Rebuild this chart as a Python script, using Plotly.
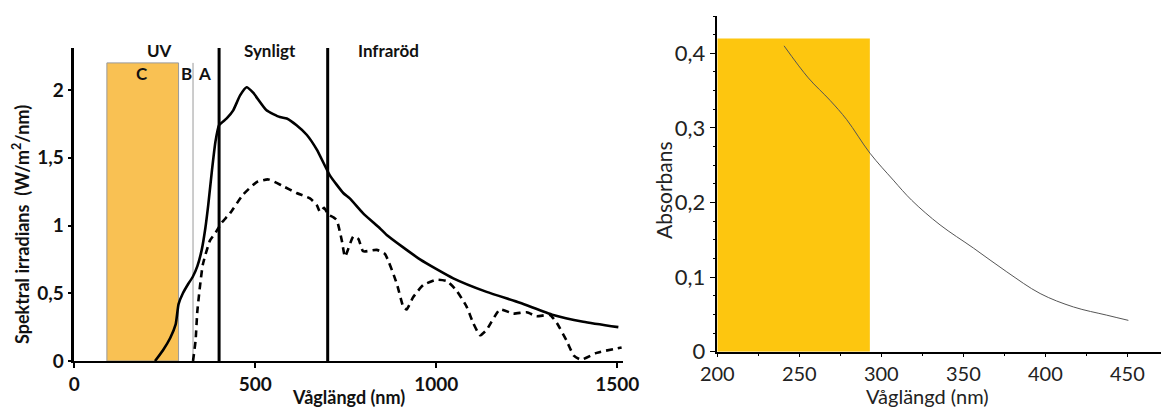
import plotly.graph_objects as go

# ---------------- Left chart: spectral irradiance ----------------
solid_nm = [223, 245, 265, 280, 288, 300, 315, 327, 340, 352, 362, 370, 380, 390, 400,
            421, 439, 458, 476, 494, 531, 568, 587, 614, 642, 670, 706, 743, 761, 798,
            844, 863, 955, 1047, 1139, 1231, 1323, 1406, 1503]
solid_val = [0.0, 0.08, 0.17, 0.27, 0.42, 0.50, 0.57, 0.62, 0.70, 0.82, 0.98, 1.15, 1.40, 1.62, 1.74,
             1.79, 1.85, 1.96, 2.02, 1.98, 1.85, 1.80, 1.79, 1.74, 1.67, 1.56, 1.37, 1.24, 1.20, 1.09,
             0.98, 0.93, 0.75, 0.61, 0.51, 0.43, 0.34, 0.29, 0.25]

dashed_nm = [328, 335, 340, 355, 375, 391, 407, 430, 467, 504, 536, 577, 614, 651, 670, 679,
             690, 702, 716, 725, 739, 748, 771, 785, 798, 835, 858, 891, 909, 918, 936, 964,
             1001, 1029, 1056, 1084, 1102, 1121, 1139, 1176, 1213, 1250, 1277, 1314, 1333,
             1360, 1380, 1400, 1443, 1512]
dashed_val = [0.0, 0.15, 0.37, 0.71, 0.89, 0.95, 1.02, 1.09, 1.23, 1.32, 1.34, 1.29, 1.24, 1.20, 1.15, 1.10,
              1.13, 1.08, 1.06, 1.04, 0.89, 0.77, 0.92, 0.90, 0.81, 0.82, 0.79, 0.57, 0.40, 0.38, 0.47, 0.56,
              0.60, 0.59, 0.52, 0.40, 0.28, 0.19, 0.23, 0.38, 0.35, 0.36, 0.33, 0.34, 0.28,
              0.15, 0.04, 0.01, 0.06, 0.10]

uvc_band = [90, 288]       # nm
uvb_edge = 328             # nm
uv_top = 2.2
region_lines = [400, 700]  # nm
left_xticks = [0, 500, 1000, 1500]
left_xtext = ["0", "500", "1000", "1500"]
left_yticks = [0, 0.5, 1, 1.5, 2]
left_ytext = ["0", "0,5", "1", "1,5", "2"]
region_labels = ["UV", "Synligt", "Infraröd"]
region_label_x = [235, 540, 868]
band_labels = ["C", "B", "A"]
band_label_x = [186, 310, 359]

# ---------------- Right chart: absorbance ----------------
abs_nm = [240.7, 255.5, 268.7, 278.9, 293.1, 307.3, 318.5, 335.8, 356.1, 376.5, 396.8, 417.1, 437.4, 450.6]
abs_val = [0.410, 0.367, 0.337, 0.311, 0.266, 0.230, 0.203, 0.170, 0.139, 0.107, 0.078, 0.060, 0.049, 0.042]
yellow_band = [200, 293]
yellow_top = 0.42
right_xticks = [200, 250, 300, 350, 400, 450]
right_yticks = [0, 0.1, 0.2, 0.3, 0.4]
right_ytext = ["0", "0,1", "0,2", "0,3", "0,4"]

FONT = "Lato"
W, H = 1161, 409

fig = go.Figure()
fig.add_trace(go.Scatter(x=solid_nm, y=solid_val, mode="lines",
                         line=dict(color="black", width=2.6, shape="spline", smoothing=0.5),
                         xaxis="x", yaxis="y", showlegend=False, hoverinfo="skip"))
fig.add_trace(go.Scatter(x=dashed_nm, y=dashed_val, mode="lines",
                         line=dict(color="black", width=2.6, dash="7px,5px", shape="spline", smoothing=0.5),
                         xaxis="x", yaxis="y", showlegend=False, hoverinfo="skip"))
fig.add_trace(go.Scatter(x=abs_nm, y=abs_val, mode="lines",
                         line=dict(color="#555555", width=1, shape="spline"),
                         xaxis="x2", yaxis="y2", showlegend=False, hoverinfo="skip"))

shapes = []
shapes.append(dict(type="rect", xref="x", yref="y", x0=uvc_band[0], x1=uvc_band[1], y0=0, y1=uv_top,
                   fillcolor="#F9C153", line=dict(color="#9a9a9a", width=1), layer="below"))
shapes.append(dict(type="line", xref="x", yref="y", x0=uvb_edge, x1=uvb_edge, y0=0, y1=uv_top,
                   line=dict(color="#9a9a9a", width=1), layer="below"))
for xv in region_lines:
    shapes.append(dict(type="line", xref="x", yref="y", x0=xv, x1=xv, y0=0, y1=2.31,
                       line=dict(color="black", width=3)))
shapes.append(dict(type="rect", xref="x2", yref="y2", x0=yellow_band[0], x1=yellow_band[1], y0=0,
                   y1=yellow_top, fillcolor="#FDC60F", line=dict(width=0), layer="below"))

annotations = []
for t, xv in zip(region_labels, region_label_x):
    annotations.append(dict(text=f"<b>{t}</b>", x=xv, y=2.295, xref="x", yref="y", showarrow=False,
                            font=dict(family=FONT, size=17, color="#111"), xanchor="center", yanchor="middle"))
for t, xv in zip(band_labels, band_label_x):
    annotations.append(dict(text=f"<b>{t}</b>", x=xv, y=2.12, xref="x", yref="y", showarrow=False,
                            font=dict(family=FONT, size=17, color="#111"), xanchor="center", yanchor="middle"))
annotations.append(dict(text="<b>Våglängd (nm)</b>", x=348 / W, y=1 - 397 / H, xref="paper", yref="paper",
                        showarrow=False, font=dict(family=FONT, size=18, color="#111"),
                        xanchor="center", yanchor="middle"))
annotations.append(dict(text="<b>Spektral irradians  (W/m<sup>2</sup>/nm)</b>", x=21 / W, y=1 - 225 / H,
                        xref="paper", yref="paper", showarrow=False, textangle=-90,
                        font=dict(family=FONT, size=18, color="#111"), xanchor="center", yanchor="middle"))
annotations.append(dict(text="Våglängd (nm)", x=927 / W, y=1 - 396 / H, xref="paper", yref="paper",
                        showarrow=False, font=dict(family=FONT, size=20, color="#222"),
                        xanchor="center", yanchor="middle"))
annotations.append(dict(text="Absorbans", x=663 / W, y=1 - 190 / H, xref="paper", yref="paper",
                        showarrow=False, textangle=-90, font=dict(family=FONT, size=21, color="#222"),
                        xanchor="center", yanchor="middle"))

fig.update_layout(
    width=W, height=H, margin=dict(l=0, r=0, t=0, b=0),
    paper_bgcolor="white", plot_bgcolor="white",
    font=dict(family=FONT, color="#111"),
    shapes=shapes, annotations=annotations,
    xaxis=dict(domain=[74.3 / W, 622.7 / W], range=[0, 1515], anchor="y", automargin=False,
               showgrid=False, zeroline=False, showline=True, linecolor="black", linewidth=2,
               tickmode="array", tickvals=left_xticks, ticktext=[f"<b>{t}</b>" for t in left_xtext],
               ticks="outside", ticklen=5, tickwidth=1.5, tickcolor="black",
               tickfont=dict(family=FONT, size=19, color="#111")),
    yaxis=dict(domain=[(H - 361) / H, (H - 48) / H], range=[0, 2.31], anchor="x", automargin=False,
               showgrid=False, zeroline=False, showline=True, linecolor="black", linewidth=2.6,
               tickmode="array", tickvals=left_yticks, ticktext=[f"<b>{t}</b>" for t in left_ytext],
               ticks="outside", ticklen=4, tickwidth=1.5, tickcolor="black",
               tickfont=dict(family=FONT, size=19, color="#111")),
    xaxis2=dict(domain=[717.3 / W, 1.0], range=[200, 470.5], anchor="y2", automargin=False,
                showgrid=False, zeroline=False, showline=True, linecolor="black", linewidth=1.5,
                tickmode="array", tickvals=right_xticks,
                ticks="outside", ticklen=4, tickwidth=1.2, tickcolor="black",
                minor=dict(dtick=25, tick0=200, ticks="outside", ticklen=3, tickcolor="black", tickwidth=1),
                tickfont=dict(family=FONT, size=20, color="#222")),
    yaxis2=dict(domain=[(H - 351.7) / H, (H - 16) / H], range=[0, 0.45], anchor="x2", automargin=False,
                showgrid=False, zeroline=False, showline=True, linecolor="black", linewidth=1.5,
                tickmode="array", tickvals=right_yticks, ticktext=right_ytext,
                ticks="outside", ticklen=6, tickwidth=1.2, tickcolor="black",
                minor=dict(dtick=0.025, tick0=0, ticks="outside", ticklen=3, tickcolor="black", tickwidth=1),
                tickfont=dict(family=FONT, size=22, color="#222")),
)

fig.write_html("out.html", config={"displayModeBar": False},
               post_script="document.body.style.margin='0px';document.body.style.overflow='hidden';")
